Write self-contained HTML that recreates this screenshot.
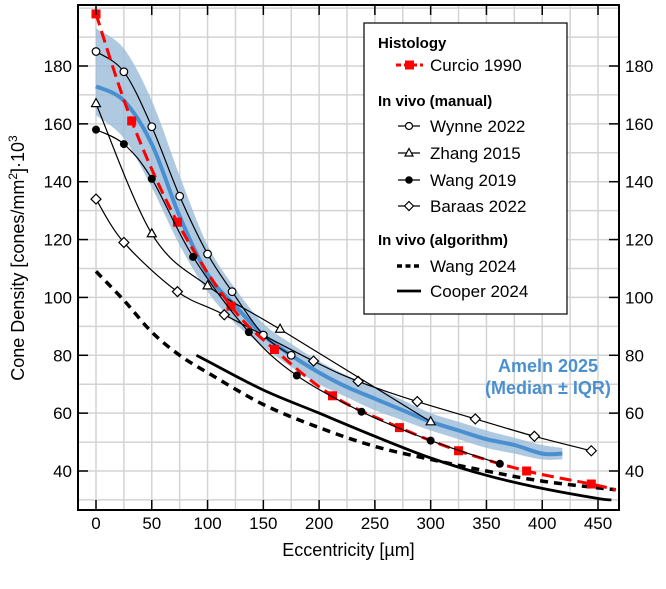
<!DOCTYPE html>
<html><head><meta charset="utf-8"><style>
html,body{margin:0;padding:0;background:#fff}
svg{display:block;font-family:"Liberation Sans",Arial,sans-serif}
</style></head><body>
<svg id="chart" width="666" height="589" viewBox="0 0 666 589" xmlns="http://www.w3.org/2000/svg"></svg>
<script>
const curcioX=[0,32,73,121,160,212,272,325,386,444,466];
const curcioY=[198,161,126,97,82,66,55,47,40,35.5,33.5];
const curcioMarkX=[0,32,73,121,160,212,272,325,386,444];
const curcioMarkY=[198,161,126,97,82,66,55,47,40,35.5];
const wynneX=[0,25,50,75,100,122,150,175];
const wynneY=[185,178,159,135,115,102,87,80];
const zhangX=[0,50,100,165,300];
const zhangY=[167,122,104,89,57];
const wang19X=[0,25,50,87,137,180,238,300,362];
const wang19Y=[158,153,141,114,88,73,60.5,50.5,42.5];
const baraasX=[0,25,73,115,195,235,288,340,393,444];
const baraasY=[134,119,102,94,78,71,64,58,52,47];
const wang24X=[0,25,50,75,100,150,200,250,300,350,400,466];
const wang24Y=[109,99,88,80,74,63,55,48.5,44,40,36.5,33.5];
const cooperX=[90,100,150,200,250,300,350,400,450,462];
const cooperY=[80,78,68,60,52,44.5,38.5,34,30.5,30];
const amelnX=[0,25,50,75,100,125,150,175,200,225,250,275,300,325,350,375,400,418];
const amelnMed=[173,168,153,128,108,97,87,80,74,69,65,61,57,54,51,49,46,46];
const amelnLo=[163,155,138,118,102,91,83,76,70,65.5,61,57.5,54,51,48,46,44,44];
const amelnHi=[193,186,168,142,118,103,91,84,78,73,69,64.5,60,57,54,51.5,49,48];
const xTicks=[0,50,100,150,200,250,300,350,400,450];
const yTicks=[40,60,80,100,120,140,160,180];

const NS="http://www.w3.org/2000/svg";
const svg=document.getElementById('chart');
const L=78,R=619,T=5,B=510;
const xs=v=>96+v*(598-96)/450;
const ys=v=>471-(v-40)*(471-66)/140;
function el(t,a,p){const e=document.createElementNS(NS,t);for(const k in a)e.setAttribute(k,a[k]);(p||svg).appendChild(e);return e;}
function smooth(X,Y,start){
  const P=X.map((x,i)=>[xs(x),ys(Y[i])]);
  let d=(start||'M')+P[0][0].toFixed(1)+','+P[0][1].toFixed(1);
  for(let i=0;i<P.length-1;i++){
    const p0=P[Math.max(i-1,0)],p1=P[i],p2=P[i+1],p3=P[Math.min(i+2,P.length-1)];
    const c1=[p1[0]+(p2[0]-p0[0])/6,p1[1]+(p2[1]-p0[1])/6];
    const c2=[p2[0]-(p3[0]-p1[0])/6,p2[1]-(p3[1]-p1[1])/6];
    d+=' C'+c1.map(v=>v.toFixed(1)).join(',')+' '+c2.map(v=>v.toFixed(1)).join(',')+' '+p2[0].toFixed(1)+','+p2[1].toFixed(1);
  }
  return d;
}

const grid=el('g',{});


for(let v=-25;v<=475;v+=25){const x=xs(v);if(x>L&&x<R)el('line',{x1:x,x2:x,y1:T,y2:B,stroke:'#d3d3d3','stroke-width':1.5},grid);}
for(let v=30;v<=200;v+=10){const y=ys(v);if(y>T&&y<B)el('line',{x1:L,x2:R,y1:y,y2:y,stroke:'#d3d3d3','stroke-width':1.5},grid);}

const bandD=smooth(amelnX,amelnHi)+' '+smooth(amelnX.slice().reverse(),amelnLo.slice().reverse(),'L')+' Z';
const band=el('path',{d:bandD,fill:'#9bbcd9','fill-opacity':0.8});


const med=el('path',{d:smooth(amelnX,amelnMed),fill:'none',stroke:'#4a90d0','stroke-width':4});



function series(name,X,Y,opts){
  const g=el('g',{});
  
  
  el('path',{d:smooth(X,Y),fill:'none',stroke:opts.stroke||'#000','stroke-width':opts.w||1.2,'stroke-dasharray':opts.dash||'none'},g);
  return g;
}
function marker(g,type,x,y){
  const cx=xs(x),cy=ys(y);let m;
  if(type==='oc')m=el('circle',{cx,cy,r:3.8,fill:'#fff',stroke:'#000','stroke-width':1.2},g);
  if(type==='fc')m=el('circle',{cx,cy,r:4,fill:'#000'},g);
  if(type==='tri')m=el('polygon',{points:`${cx},${cy-5} ${cx-4.5},${cy+3} ${cx+4.5},${cy+3}`,fill:'#fff',stroke:'#000','stroke-width':1.2},g);
  if(type==='dia')m=el('polygon',{points:`${cx},${cy-5} ${cx+5},${cy} ${cx},${cy+5} ${cx-5},${cy}`,fill:'#fff',stroke:'#000','stroke-width':1.2},g);
  if(type==='sq')m=el('rect',{x:cx-4.5,y:cy-4.5,width:9,height:9,fill:'#f00'},g);
  
  
}
series('wang2024-line',wang24X,wang24Y,{w:3.5,dash:'8,6'});
series('cooper2024-line',cooperX,cooperY,{w:2.8});
const gB=series('baraas2022-series',baraasX,baraasY,{});baraasX.forEach((x,i)=>marker(gB,'dia',x,baraasY[i]));
const gZ=series('zhang2015-series',zhangX,zhangY,{});zhangX.forEach((x,i)=>marker(gZ,'tri',x,zhangY[i]));
const gW=series('wynne2022-series',wynneX,wynneY,{});wynneX.forEach((x,i)=>marker(gW,'oc',x,wynneY[i]));
const gC=series('curcio1990-series',curcioX,curcioY,{stroke:'#f00',w:3,dash:'12,6'});curcioMarkX.forEach((x,i)=>marker(gC,'sq',x,curcioMarkY[i]));
const gV=series('wang2019-series',wang19X,wang19Y,{});wang19X.forEach((x,i)=>marker(gV,'fc',x,wang19Y[i]));

const fr=el('rect',{x:L,y:T,width:R-L,height:B-T,fill:'none',stroke:'#000','stroke-width':2});


xTicks.forEach(v=>{const x=xs(v);
  el('line',{x1:x,x2:x,y1:B,y2:B-10,stroke:'#000','stroke-width':1.5});
  el('line',{x1:x,x2:x,y1:T,y2:T+10,stroke:'#000','stroke-width':1.5});
  const t=el('text',{x:x,y:B+19,'text-anchor':'middle','font-size':17,fill:'#000'});t.textContent=v;
  
  
});
yTicks.forEach(v=>{const y=ys(v);
  el('line',{x1:L,x2:L+10,y1:y,y2:y,stroke:'#000','stroke-width':1.5});
  el('line',{x1:R,x2:R-10,y1:y,y2:y,stroke:'#000','stroke-width':1.5});
  const t=el('text',{x:L-6,y:y+6,'text-anchor':'end','font-size':17,fill:'#000'});t.textContent=v;
  
  
  const t2=el('text',{x:R+6,y:y+6,'text-anchor':'start','font-size':17,fill:'#000'});t2.textContent=v;
  
  
});
const xt=el('text',{x:(L+R)/2,y:556,'text-anchor':'middle','font-size':18});xt.textContent='Eccentricity [µm]';


const yt=el('text',{x:0,y:0,transform:'translate(24,258) rotate(-90)','text-anchor':'middle','font-size':18});
yt.innerHTML='Cone Density [cones/mm<tspan baseline-shift="super" font-size="12">2</tspan>]·10<tspan baseline-shift="super" font-size="12">3</tspan>';



const an=el('text',{x:548,y:372,'text-anchor':'middle','font-size':18,'font-weight':'bold',fill:'#4a90d0'});
an.innerHTML='<tspan x="548" dy="0">Ameln 2025</tspan><tspan x="548" dy="22">(Median ± IQR)</tspan>';



const lg=el('g',{});


el('rect',{x:364,y:23,width:203,height:291,fill:'#fff',stroke:'#000','stroke-width':1.2},lg);
function lt(txt,x,y,bold,name){const t=el('text',{x,y,'font-size':bold?15:17,'font-weight':bold?'bold':'normal'},lg);t.textContent=txt;
  
  }
lt('Histology',378,48,true,'legend-header-histology');
lt('Curcio 1990',430,71,false,'legend-entry-curcio');
el('line',{x1:396,x2:423,y1:65,y2:65,stroke:'#f00','stroke-width':3,'stroke-dasharray':'5,3'},lg);
el('rect',{x:405,y:60.5,width:9,height:9,fill:'#f00'},lg);
lt('In vivo (manual)',378,106,true,'legend-header-manual');
const rows=[['Wynne 2022',126,'oc'],['Zhang 2015',153,'tri'],['Wang 2019',180,'fc'],['Baraas 2022',206,'dia']];
rows.forEach(r=>{lt(r[0],430,r[1]+6,false,'legend-entry');
  el('line',{x1:398,x2:420,y1:r[1],y2:r[1],stroke:'#000','stroke-width':1.2},lg);
  const cx=409,cy=r[1];
  if(r[2]==='oc')el('circle',{cx,cy,r:3.5,fill:'#fff',stroke:'#000','stroke-width':1.2},lg);
  if(r[2]==='fc')el('circle',{cx,cy,r:3.8,fill:'#000'},lg);
  if(r[2]==='tri')el('polygon',{points:`${cx},${cy-4.5} ${cx-4},${cy+3} ${cx+4},${cy+3}`,fill:'#fff',stroke:'#000','stroke-width':1.2},lg);
  if(r[2]==='dia')el('polygon',{points:`${cx},${cy-4.5} ${cx+4.5},${cy} ${cx},${cy+4.5} ${cx-4.5},${cy}`,fill:'#fff',stroke:'#000','stroke-width':1.2},lg);
});
lt('In vivo (algorithm)',378,245,true,'legend-header-algorithm');
lt('Wang 2024',430,272,false,'legend-entry-wang2024');
el('line',{x1:397,x2:422,y1:266,y2:266,stroke:'#000','stroke-width':3.5,'stroke-dasharray':'5,3.5'},lg);
lt('Cooper 2024',430,297,false,'legend-entry-cooper');
el('line',{x1:397,x2:421,y1:291,y2:291,stroke:'#000','stroke-width':2.8},lg);
</script>
</body></html>
